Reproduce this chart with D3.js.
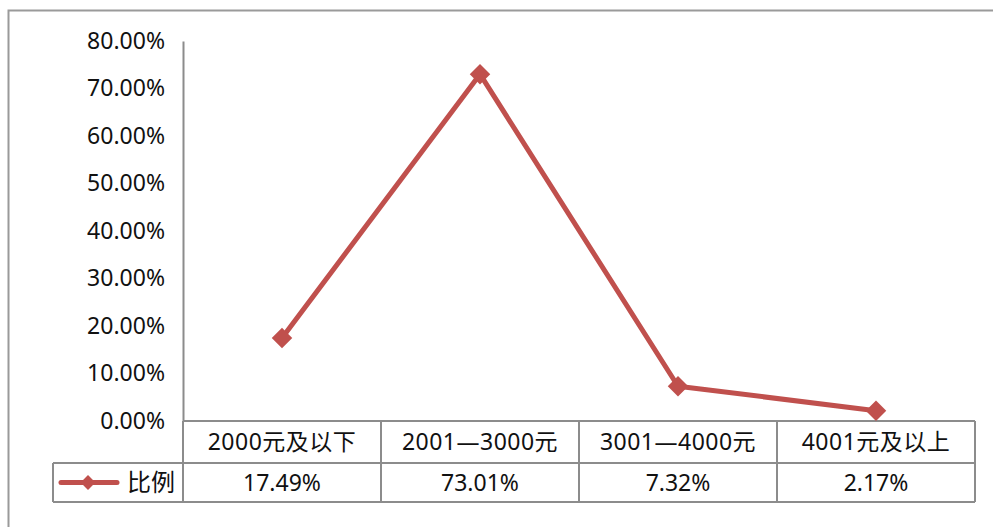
<!DOCTYPE html>
<html>
<head>
<meta charset="utf-8">
<script src="https://cdn.jsdelivr.net/npm/d3@7"></script>
<style>
  body { margin: 0; background: #fff; }
  text { font-family: "Noto Sans", "Noto Sans CJK SC", sans-serif; fill: #111; }
</style>
</head>
<body>
<div id="chart"></div>
<script>
var categories = ["2000元及以下", "2001—3000元", "3001—4000元", "4001元及以上"];
var values = [17.49, 73.01, 7.32, 2.17];
var valueLabels = ["17.49%", "73.01%", "7.32%", "2.17%"];
var yTicks = [0, 10, 20, 30, 40, 50, 60, 70, 80];
var seriesName = "比例";

var W = 993, H = 527;
var color = "#C0504D", grid = "#8c8c8c";

var svg = d3.select("#chart").append("svg")
    .attr("width", W)
    .attr("height", H);

// outer chart border
svg.append("rect")
    .attr("x", 8.5).attr("y", 10.5)
    .attr("width", 1000).attr("height", 600)
    .attr("fill", "none")
    .attr("stroke", "#9a9a9a")
    .attr("stroke-width", 2);

var plot = {left: 183, right: 975, top: 41, bottom: 421};
var row1 = 463, row2 = 502, legendLeft = 53;

var x = d3.scaleBand()
    .domain(categories)
    .range([plot.left, plot.right]);

var y = d3.scaleLinear()
    .domain([0, 80])
    .range([plot.bottom, plot.top]);

// y axis
var yAxis = d3.axisLeft(y)
    .tickValues(yTicks)
    .tickSize(0)
    .tickPadding(18)
    .tickFormat(function(d) { return d3.format(".2f")(d) + "%"; });

var gy = svg.append("g")
    .attr("transform", "translate(" + plot.left + ",0)")
    .call(yAxis);
gy.select(".domain").attr("stroke", grid).attr("stroke-width", 2);
gy.selectAll("text").style("font-size", "23px").attr("fill", "#111");

// data table lines
var tbl = svg.append("g").attr("stroke", grid).attr("stroke-width", 2).attr("fill", "none");
tbl.append("line").attr("x1", plot.left).attr("x2", plot.right).attr("y1", plot.bottom).attr("y2", plot.bottom);
tbl.append("line").attr("x1", legendLeft).attr("x2", plot.right).attr("y1", row1).attr("y2", row1);
tbl.append("line").attr("x1", legendLeft).attr("x2", plot.right).attr("y1", row2).attr("y2", row2);
tbl.append("line").attr("x1", legendLeft).attr("x2", legendLeft).attr("y1", row1).attr("y2", row2);
tbl.append("line").attr("x1", plot.left).attr("x2", plot.left).attr("y1", plot.bottom).attr("y2", row2);
categories.forEach(function(c) {
    var xr = x(c) + x.bandwidth();
    tbl.append("line").attr("x1", xr).attr("x2", xr).attr("y1", plot.bottom).attr("y2", row2);
});

// category labels and values
svg.selectAll(".cat")
    .data(categories)
    .enter().append("text")
    .attr("class", "cat")
    .attr("x", function(d) { return x(d) + x.bandwidth() / 2; })
    .attr("y", (plot.bottom + row1) / 2)
    .attr("dy", "0.36em")
    .attr("text-anchor", "middle")
    .style("font-size", "23px")
    .style("letter-spacing", "0.5px")
    .text(function(d) { return d; });

svg.selectAll(".val")
    .data(valueLabels)
    .enter().append("text")
    .attr("class", "val")
    .attr("x", function(d, i) { return x(categories[i]) + x.bandwidth() / 2; })
    .attr("y", (row1 + row2) / 2)
    .attr("dy", "0.36em")
    .attr("text-anchor", "middle")
    .style("font-size", "23px")
    .text(function(d) { return d; });

// rotated square marker
var diamond = d3.symbol().type(d3.symbolSquare);

// legend key
var ly = (row1 + row2) / 2;
svg.append("line")
    .attr("x1", 61).attr("x2", 117).attr("y1", ly).attr("y2", ly)
    .attr("stroke", color).attr("stroke-width", 5).attr("stroke-linecap", "round");
svg.append("path")
    .attr("d", diamond.size(110)())
    .attr("transform", "translate(88," + ly + ") rotate(45)")
    .attr("fill", color);
svg.append("text")
    .attr("x", 127).attr("y", ly).attr("dy", "0.36em")
    .style("font-size", "24px")
    .text(seriesName);

// series line
var line = d3.line()
    .x(function(d, i) { return x(categories[i]) + x.bandwidth() / 2; })
    .y(function(d) { return y(d); });

svg.append("path")
    .datum(values)
    .attr("d", line)
    .attr("fill", "none")
    .attr("stroke", color)
    .attr("stroke-width", 5)
    .attr("stroke-linejoin", "round");

svg.selectAll(".marker")
    .data(values)
    .enter().append("path")
    .attr("class", "marker")
    .attr("d", diamond.size(210)())
    .attr("transform", function(d, i) {
        return "translate(" + (x(categories[i]) + x.bandwidth() / 2) + "," + y(d) + ") rotate(45)";
    })
    .attr("fill", color);
</script>
</body>
</html>
